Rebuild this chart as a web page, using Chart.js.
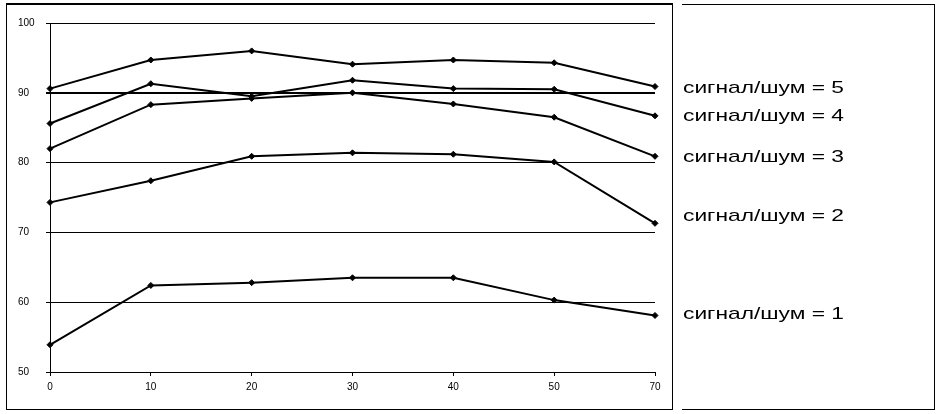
<!DOCTYPE html>
<html>
<head>
<meta charset="utf-8">
<script src="https://cdn.jsdelivr.net/npm/chart.js@4"></script>
<style>
  html, body { margin: 0; padding: 0; background: #fff; }
  body { width: 942px; height: 414px; position: relative; overflow: hidden; }
  #plotFrame {
    position: absolute; left: 6px; top: 3px; width: 665px; height: 404px;
    border-left: 1px solid #000; border-right: 1px solid #000;
    border-top: 2px solid #000; border-bottom: 1px solid #000;
  }
  #labelFrame {
    position: absolute; left: 682px; top: 4px; width: 252px; height: 404px;
    border-top: 1px solid #000; border-right: 1px solid #000; border-bottom: 1px solid #000;
  }
  #chart { position: absolute; left: 0; top: 0; }
  .snr {
    position: absolute; left: 683px; font-family: "Liberation Sans", Arial, sans-serif;
    font-size: 17px; color: #000; white-space: nowrap;
    transform: scaleX(1.34); transform-origin: left top;
  }
</style>
</head>
<body>
<div id="plotFrame"></div>
<div id="labelFrame"></div>
<canvas id="chart" width="942" height="414"></canvas>
<div id="labels"></div>
<script>
// x categories and tick labels
const categories = ['0', '10', '20', '30', '40', '50', '70'];
const yTicks = [50, 60, 70, 80, 90, 100];

// one series per signal/noise ratio
const snr5 = [90.6, 94.7, 96.0, 94.1, 94.7, 94.3, 90.9];
const snr4 = [85.6, 91.3, 89.5, 91.8, 90.6, 90.5, 86.7];
const snr3 = [82.0, 88.3, 89.2, 90.0, 88.4, 86.5, 80.9];
const snr2 = [74.3, 77.4, 80.9, 81.4, 81.2, 80.1, 71.3];
const snr1 = [53.9, 62.4, 62.8, 63.5, 63.5, 60.3, 58.1];

const seriesNames = ['сигнал/шум = 5', 'сигнал/шум = 4', 'сигнал/шум = 3', 'сигнал/шум = 2', 'сигнал/шум = 1'];
const seriesData = [snr5, snr4, snr3, snr2, snr1];
// where each name sits in the right-hand box
const labelTops = [78, 106, 147, 206, 304];

const labelBox = document.getElementById('labels');
seriesNames.forEach((name, i) => {
    const el = document.createElement('div');
    el.className = 'snr';
    el.style.top = labelTops[i] + 'px';
    el.textContent = name;
    labelBox.appendChild(el);
});

const tickFont = { family: "'Liberation Sans', Arial, sans-serif", size: 10 };

new Chart(document.getElementById('chart'), {
    type: 'line',
    data: {
        labels: categories,
        datasets: seriesData.map((values, i) => ({
            label: seriesNames[i],
            data: values,
            borderColor: '#000',
            backgroundColor: '#000',
            borderWidth: 2,
            tension: 0,
            pointStyle: 'rectRot',
            pointRadius: 3,
            pointBackgroundColor: '#000',
            pointBorderColor: '#000',
            pointBorderWidth: 1
        }))
    },
    options: {
        responsive: false,
        animation: false,
        layout: { padding: { left: 18, top: 23, right: 287, bottom: 22 } },
        plugins: {
            legend: { display: false },
            tooltip: { enabled: false }
        },
        scales: {
            x: {
                offset: false,
                afterFit: (scale) => { scale.height = 20; },
                grid: { drawOnChartArea: false, color: '#000', tickLength: 4 },
                border: { color: '#000', width: 1 },
                ticks: { color: '#000', font: tickFont, padding: 5, maxRotation: 0, autoSkip: false }
            },
            y: {
                min: 50,
                max: 100,
                afterFit: (scale) => { scale.width = 32; },
                afterBuildTicks: (scale) => { scale.ticks = yTicks.map(v => ({ value: v })); },
                grid: {
                    color: '#000',
                    tickLength: 4,
                    lineWidth: (ctx) => (ctx.tick && ctx.tick.value === 90 ? 2 : 1)
                },
                border: { color: '#000', width: 1 },
                ticks: { color: '#000', font: tickFont, crossAlign: 'far', padding: 4 }
            }
        }
    }
});
</script>
</body>
</html>
